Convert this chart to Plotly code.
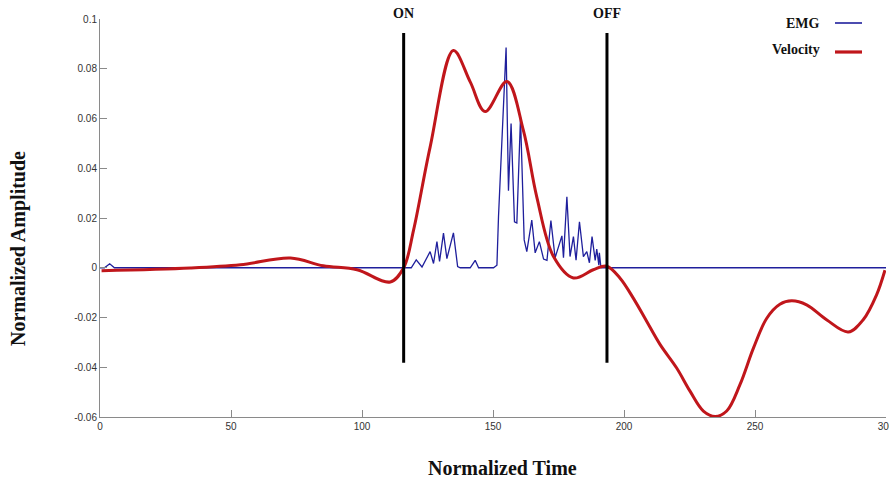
import plotly.graph_objects as go

# ---------------- data ----------------
emg_x = [0, 1.7, 3.7, 5.5, 115.9, 118.8, 120.7, 122.9, 126.0, 127.3, 128.6, 129.6, 131.1, 132.4,
         134.9, 136.5, 137.5, 141.3, 143.2, 144.5, 150.2, 151.5, 152.1, 155.0, 155.9, 156.9,
         158.2, 159.1, 160.5, 161.9, 162.9, 164.8, 166.1, 167.7, 169.3, 170.6, 172.1, 173.7,
         176.3, 176.9, 178.2, 179.4, 180.7, 181.7, 183.0, 184.5, 185.8, 186.8, 187.8, 189.0,
         189.6, 190.4, 190.6, 191.2, 300]
emg_y = [0, 0, 0.0016, 0, 0, 0, 0.0032, 0.0003, 0.0065, 0.0017, 0.0105, 0.0025, 0.0139, 0.0037,
         0.0140, 0.0005, 0, 0, 0.0030, 0, 0, 0.0010, 0.0205, 0.0885, 0.0310, 0.0580,
         0.0185, 0.0180, 0.0605, 0.0112, 0.0065, 0.0192, 0.0060, 0.0105, 0.0035, 0.0030, 0.0190, 0.0040,
         0.0128, 0.0040, 0.0285, 0.0045, 0.0125, 0.0030, 0.0185, 0.0045, 0.0065, 0.0020, 0.0125, 0.0030,
         0.0075, 0.0010, 0.0060, 0, 0]

vel_x = [0.6, 34.5, 53.6, 72.7, 85.2, 98.1, 110.8, 115.9, 119.7, 126.0, 134.9, 141.3, 147.0,
         155.3, 161.6, 166.7, 173.1, 180.7, 188.3, 193.4, 198.5, 203.6, 208.7, 213.8, 220.1,
         225.2, 230.3, 234.8, 239.2, 244.3, 249.4, 254.5, 259.5, 264.0, 269.7, 277.3, 285.6,
         291.3, 296.4, 299.6]
vel_y = [-0.0012, -0.0001, 0.0012, 0.0039, 0.0008, -0.0008, -0.0057, 0.0, 0.0152, 0.0485, 0.0873,
         0.0747, 0.0628, 0.0749, 0.0552, 0.0285, 0.0045, -0.0041, -0.0008, 0.0006, -0.0042, -0.0123,
         -0.0216, -0.0309, -0.0403, -0.0496, -0.0576, -0.0598, -0.0576, -0.0469, -0.0323, -0.0203,
         -0.0147, -0.0133, -0.0149, -0.0209, -0.0258, -0.0209, -0.0109, -0.0010]

marker_x = [115.9, 193.5]
marker_labels = ["ON", "OFF"]
marker_y_span = [-0.0382, 0.0944]

x_tickvals = [0, 50, 100, 150, 200, 250, 300]
x_ticktext = ["0", "50", "100", "150", "200", "250", "300"]
y_tickvals = [-0.06, -0.04, -0.02, 0, 0.02, 0.04, 0.06, 0.08, 0.1]
y_ticktext = ["-0.06", "-0.04", "-0.02", "0", "0.02", "0.04", "0.06", "0.08", "0.1"]

series_names = ["EMG", "Velocity"]
series_colors = ["#1f1f9c", "#c0161b"]

# ---------------- figure ----------------
W, H = 889, 484
ML, MR, MT, MB = 100, 3, 19, 67
plot_w = W - ML - MR
plot_h = H - MT - MB


def px_to_paper_x(px):
    return (px - ML) / plot_w


def py_to_paper_y(py):
    return (H - MB - py) / plot_h


serif = "Liberation Serif, Times New Roman, serif"
sans = "Liberation Sans, Arial, sans-serif"

fig = go.Figure()
fig.add_trace(go.Scatter(x=emg_x, y=emg_y, mode="lines", name=series_names[0],
                         line=dict(color=series_colors[0], width=1.3), showlegend=False,
                         hoverinfo="skip"))
fig.add_trace(go.Scatter(x=vel_x, y=vel_y, mode="lines", name=series_names[1],
                         line=dict(color=series_colors[1], width=3, shape="spline", smoothing=1.0),
                         showlegend=False, hoverinfo="skip"))

# ON / OFF markers
for xv, lab in zip(marker_x, marker_labels):
    fig.add_shape(type="line", xref="x", yref="y", x0=xv, x1=xv,
                  y0=marker_y_span[0], y1=marker_y_span[1],
                  line=dict(color="black", width=3), layer="above")
    fig.add_annotation(x=xv, xref="x", y=py_to_paper_y(13), yref="paper", yanchor="middle",
                       text="<b>%s</b>" % lab, showarrow=False,
                       font=dict(family=serif, size=14, color="#111"))

# manual legend (text then line sample, as in the reference)
for name, col, ty, ly, w in [(series_names[0], series_colors[0], 23, 23, 1.6),
                             (series_names[1], series_colors[1], 49, 52, 3.2)]:
    fig.add_annotation(x=px_to_paper_x(822), xref="paper", y=py_to_paper_y(ty), yref="paper",
                       text="<b>%s</b>" % name, showarrow=False, xanchor="right", yanchor="middle",
                       font=dict(family=serif, size=14, color="#111"))
    fig.add_shape(type="line", xref="paper", yref="paper",
                  x0=px_to_paper_x(835), x1=px_to_paper_x(862),
                  y0=py_to_paper_y(ly), y1=py_to_paper_y(ly),
                  line=dict(color=col, width=w))

# axis titles
fig.add_annotation(x=px_to_paper_x(503), xref="paper", y=py_to_paper_y(468), yref="paper",
                   text="<b>Normalized Time</b>", showarrow=False, xanchor="center", yanchor="middle",
                   font=dict(family=serif, size=20, color="#111"))
fig.add_annotation(x=px_to_paper_x(19), xref="paper", y=py_to_paper_y(249), yref="paper",
                   text="<b>Normalized Amplitude</b>", showarrow=False, textangle=-90,
                   xanchor="center", yanchor="middle",
                   font=dict(family=serif, size=20, color="#111"))

fig.update_layout(
    width=W, height=H,
    margin=dict(l=ML, r=MR, t=MT, b=MB),
    paper_bgcolor="white", plot_bgcolor="white",
    xaxis=dict(range=[0, 300.0001], tickvals=x_tickvals, ticktext=x_ticktext,
               showgrid=False, zeroline=False, showline=True, linecolor="#8a8a8a", linewidth=1,
               ticks="inside", ticklen=7, tickcolor="#8a8a8a", ticklabeloverflow="allow",
               tickfont=dict(family=sans, size=10, color="#333333"), automargin=False),
    yaxis=dict(range=[-0.06, 0.1], tickvals=y_tickvals, ticktext=y_ticktext,
               showgrid=False, zeroline=False, showline=True, linecolor="#8a8a8a", linewidth=1,
               ticks="inside", ticklen=7, tickcolor="#8a8a8a", ticklabeloverflow="allow",
               tickfont=dict(family=sans, size=10, color="#333333"), automargin=False),
)

fig.write_html("out.html", config={"displayModeBar": False},
               post_script="document.body.style.margin='0';document.body.style.overflow='hidden';")
